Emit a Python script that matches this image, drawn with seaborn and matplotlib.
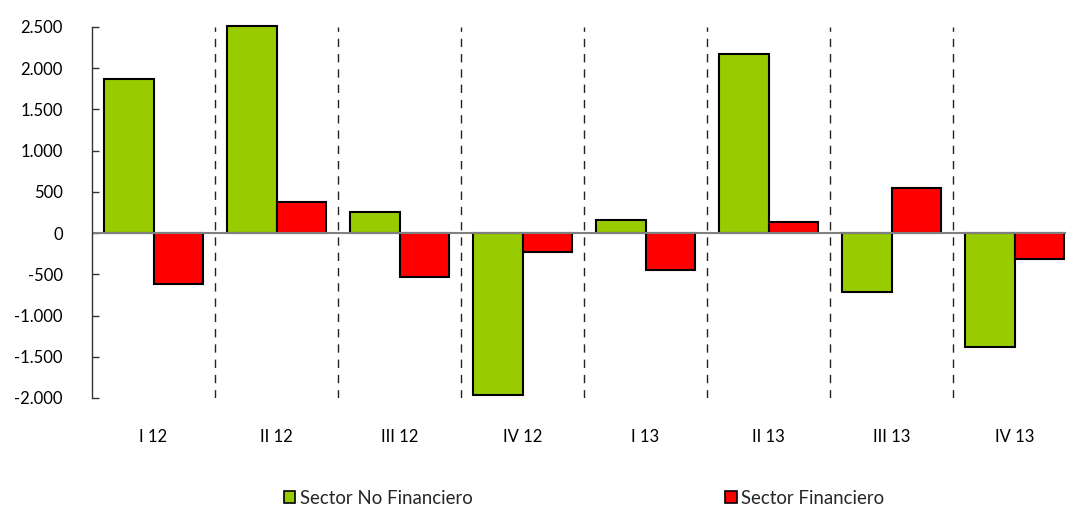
import matplotlib
matplotlib.use("Agg")
import matplotlib.pyplot as plt
import seaborn as sns
import pandas as pd
from matplotlib.patches import Patch
from matplotlib.ticker import FuncFormatter, MultipleLocator

categories = ["I 12", "II 12", "III 12", "IV 12", "I 13", "II 13", "III 13", "IV 13"]
no_financiero = [1870, 2510, 250, -1960, 160, 2170, -710, -1380]
financiero = [-620, 375, -535, -230, -450, 135, 545, -315]
series_names = ["Sector No Financiero", "Sector Financiero"]
colors = ["#99CC00", "#FF0000"]

df = pd.DataFrame({
    "cat": categories * 2,
    "val": no_financiero + financiero,
    "serie": [series_names[0]] * len(categories) + [series_names[1]] * len(categories),
})

sns.set_theme(style="white")
plt.rcParams["font.family"] = ["Lato", "DejaVu Sans"]

fig = plt.figure(figsize=(10.66, 5.08), dpi=100)
ax = fig.add_axes([92 / 1066, 110 / 508, 984 / 1066, 371 / 508])

sns.barplot(data=df, x="cat", y="val", hue="serie", palette=colors,
            order=categories, hue_order=series_names,
            edgecolor="black", linewidth=1.5, width=0.8, ax=ax, legend=False,
            saturation=1)
for p in ax.patches:
    p.set_clip_on(False)

ax.set_ylim(-2000, 2500)
ax.set_xlim(-0.5, len(categories) - 0.5)
ax.yaxis.set_major_locator(MultipleLocator(500))
ax.yaxis.set_major_formatter(FuncFormatter(lambda v, p: f"{int(v):,}".replace(",", ".")))

ax.axhline(0, color="#808080", lw=1.5, zorder=1)
for i in range(len(categories) - 1):
    ax.axvline(i + 0.5, color="#222222", lw=1, dashes=(6, 5), zorder=0)

for s in ["top", "right", "bottom"]:
    ax.spines[s].set_visible(False)
ax.spines["left"].set_color("#333333")
ax.spines["left"].set_linewidth(1)

ax.tick_params(axis="y", direction="in", length=5, width=1, color="#333333",
               pad=21, labelsize=12, labelcolor="black", left=True)
ax.tick_params(axis="x", length=0, pad=22, labelsize=12, labelcolor="black")
ax.set_xlabel("")
ax.set_ylabel("")
ax.grid(False)

handles = [Patch(facecolor=c, edgecolor="black", linewidth=1.2) for c in colors]
fig.legend(handles, series_names, loc="center", bbox_to_anchor=(584 / 1066, 1 - 498 / 508),
           ncol=2, frameon=False, fontsize=13.4, columnspacing=13.6,
           handlelength=0.6, handleheight=0.6, handletextpad=0.25,
           borderpad=0, borderaxespad=0)

fig.savefig("out.png", dpi=100)
